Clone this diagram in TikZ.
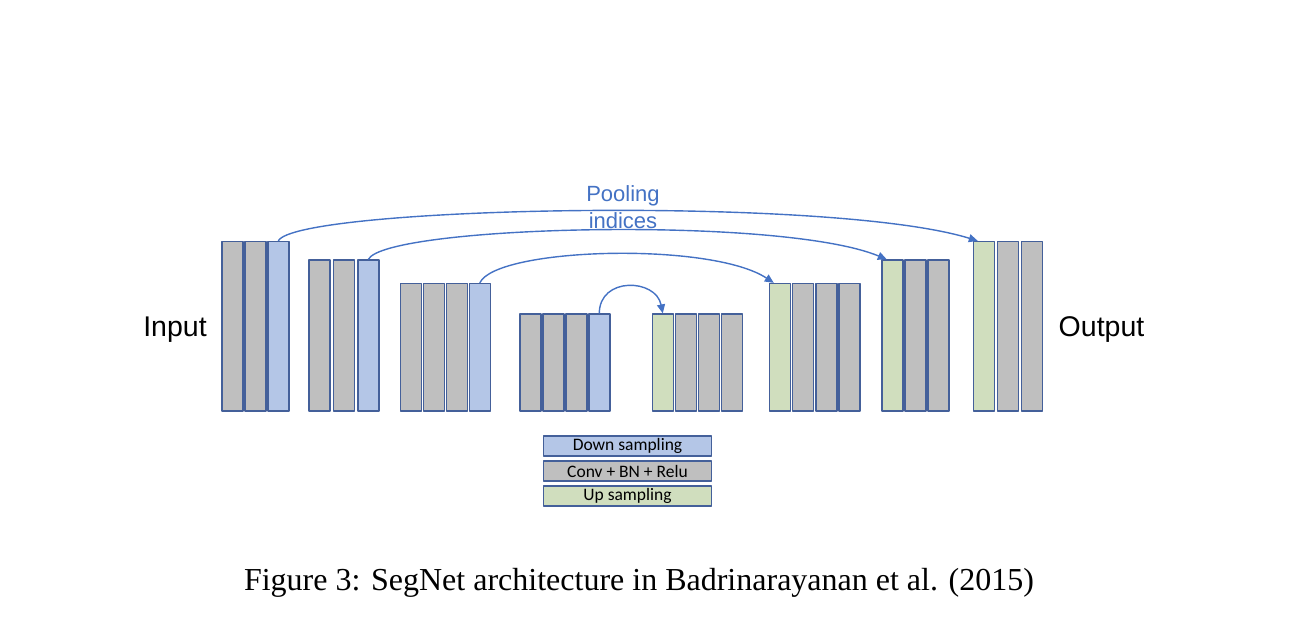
\documentclass[tikz,border=0pt]{standalone}
\usepackage{fontspec}
\setmainfont{Liberation Serif}
\setsansfont{Liberation Sans}
\newfontfamily\legendfont{Carlito}
\usetikzlibrary{arrows.meta}

\definecolor{convgray}{HTML}{BFBFBF}
\definecolor{downblue}{HTML}{B4C6E7}
\definecolor{upgreen}{HTML}{D0DEBE}
\definecolor{barline}{HTML}{44609A}
\definecolor{poolblue}{HTML}{4472C4}

\tikzset{
  bar/.style = {draw=barline, line width=1.6pt, minimum width=21pt, inner sep=0pt, anchor=south west},
  pool/.style = {draw=poolblue, line width=1.4pt, -{Triangle[length=9pt,width=8pt]}},
  legend/.style = {draw=barline, line width=1.3pt, minimum width=168pt, minimum height=20pt, inner sep=0pt,
    font=\legendfont\fontsize{17.5}{20}\selectfont},
  side/.style = {anchor=base, inner sep=0pt, font=\sffamily\fontsize{28.5}{34}\selectfont},
}

\begin{document}
\begin{tikzpicture}[x=1pt, y=-1pt, line join=round]
\useasboundingbox (0,0) rectangle (1312,628);

% encoder / decoder groups: id / left x / top y / bars / pitch / special bar / its colour
\foreach \g/\x/\yt/\n/\p/\k/\s in {1/221/242.5/3/23/3/downblue, 2/308/261/3/24.5/3/downblue,
    3/399.5/284.5/4/23/4/downblue, 4/519/315/4/23/4/downblue, 5/651.5/315/4/23/1/upgreen,
    6/768.5/284.5/4/23.2/1/upgreen, 7/881/261/3/23/1/upgreen, 8/972.5/242.5/3/24/1/upgreen}{
  \foreach \i in {1,...,\n}{
    \ifnum\i=\k \def\c{\s}\else \def\c{convgray}\fi
    \node[bar, fill=\c, minimum height={411.5pt-\yt pt}] (g\g-\i) at ({\x+(\i-1)*\p}, 411.5) {};
  }
}

\node[side] (input) at (175,336.7) {Input};
\node[side] (output) at (1101.5,336.7) {Output};

% pooling indices
\draw[pool] (g1-3.north) .. controls +(17.5,-34.5) and +(-147,-45.5) .. ([xshift=-6pt]g8-1.north);
\draw[pool] (g2-3.north) .. controls +(17.5,-34) and +(-106,-44) .. ([xshift=-5.5pt]g7-1.north);
\draw[pool] (g3-4.north) .. controls +(16.5,-35.5) and +(-63,-41.5) .. ([xshift=-6pt]g6-1.north);
\draw[pool] (g4-4.north) .. controls +(0,-37) and +(-7,-35) .. (g5-1.north);
\node[inner sep=0pt, align=center, text=poolblue, font=\sffamily\fontsize{22}{26.5}\selectfont]
  (pooling) at (623,207) {Pooling\\indices};

% legend
\node[legend, fill=downblue] (leg-down) at (627.5,446) {Down sampling};
\node[legend, fill=convgray] (leg-conv) at (627.5,471) {Conv + BN + Relu};
\node[legend, fill=upgreen] (leg-up) at (627.5,496) {Up sampling};

\node[anchor=base, inner sep=0pt, font=\fontsize{32}{38}\selectfont] (caption) at (639,590)
  {Figure 3: SegNet architecture in Badrinarayanan et al. (2015)};
\end{tikzpicture}
\end{document}
